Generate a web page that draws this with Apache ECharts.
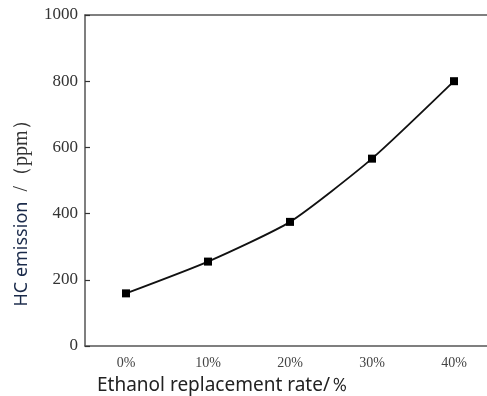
<!DOCTYPE html>
<html>
<head>
<meta charset="utf-8">
<script src="https://cdn.jsdelivr.net/npm/echarts@6/dist/echarts.min.js"></script>
<style>
  html, body { margin: 0; padding: 0; background: #fff; }
  #chart { width: 487px; height: 396px; }
</style>
</head>
<body>
<div id="chart"></div>
<script>
// Ethanol replacement rate vs HC emission
const rates = ['0%', '10%', '20%', '30%', '40%'];
const hcEmission = [159, 255, 375, 566, 800];
const yTicks = [0, 200, 400, 600, 800, 1000];

const chart = echarts.init(document.getElementById('chart'));
const axisColor = '#555';
const serif = '"Liberation Serif", "DejaVu Serif", serif';
const sans = '"Noto Sans", "DejaVu Sans", sans-serif';

chart.setOption({
  backgroundColor: '#fff',
  animation: false,
  grid: { left: 85, top: 15, width: 410, height: 331, outerBoundsMode: 'none', containLabel: false },
  xAxis: [{
    type: 'category',
    data: rates,
    boundaryGap: true,
    axisLine: { lineStyle: { color: axisColor, width: 1.5 } },
    axisTick: { inside: true, alignWithLabel: true, length: 5, lineStyle: { color: '#333', width: 1.2 } },
    axisLabel: { fontFamily: serif, fontSize: 14, color: '#444', margin: 10 },
    name: 'Ethanol replacement rate/％',
    nameLocation: 'middle',
    nameGap: 30,
    nameTextStyle: { fontFamily: sans, fontSize: 19, color: '#222', padding: [0, 134, 0, 0] }
  }, {
    type: 'category',
    position: 'top',
    data: rates,
    axisLine: { lineStyle: { color: axisColor, width: 1.5 } },
    axisTick: { show: false },
    axisLabel: { show: false }
  }],
  yAxis: {
    type: 'value',
    min: yTicks[0],
    max: yTicks[yTicks.length - 1],
    interval: yTicks[1] - yTicks[0],
    splitLine: { show: false },
    axisLine: { show: true, lineStyle: { color: axisColor, width: 1.5 } },
    axisTick: { show: true, inside: true, length: 5, lineStyle: { color: '#333', width: 1.2 } },
    axisLabel: { fontFamily: serif, fontSize: 17, color: '#333', margin: 7, formatter: v => String(v) },
    name: '{a|HC emission}{b|  /（ppm）}',
    nameLocation: 'middle',
    nameGap: 53,
    nameTextStyle: {
      padding: [0, 56, 0, 0],
      rich: {
        a: { fontFamily: sans, fontSize: 18, color: '#1a2a4a' },
        b: { fontFamily: serif, fontSize: 20, color: '#333' }
      }
    }
  },
  series: [{
    type: 'line',
    data: hcEmission,
    smooth: 0.2,
    symbol: 'rect',
    symbolSize: 8,
    itemStyle: { color: '#000' },
    lineStyle: { color: '#111', width: 1.8 }
  }]
});
</script>
</body>
</html>
